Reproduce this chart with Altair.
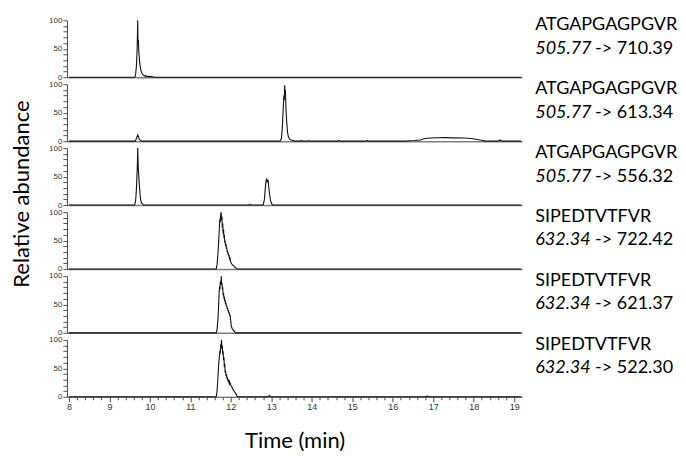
import altair as alt
import pandas as pd

# ---- labels ----
y_title = "Relative abundance"
peptides = ["ATGAPGAGPGVR", "ATGAPGAGPGVR", "ATGAPGAGPGVR",
            "SIPEDTVTFVR", "SIPEDTVTFVR", "SIPEDTVTFVR"]
precursors = ["505.77", "505.77", "505.77", "632.34", "632.34", "632.34"]
products = ["710.39", "613.34", "556.32", "722.42", "621.37", "522.30"]

# ---- traces (time in min, relative abundance in %) ----
t1 = [8.00, 9.62, 9.645, 9.665, 9.68, 9.69, 9.70, 9.705, 9.715, 9.725, 9.735, 9.75, 9.77, 9.79,
      9.81, 9.83, 9.85, 9.87, 9.89, 9.91, 9.93, 9.95, 9.98, 10.02, 10.06, 10.09, 19.17]
i1 = [0, 0, 3, 18, 40, 64, 100, 62, 66, 45, 38, 24, 15, 9,
      6, 4, 3, 2, 3, 1, 2, 1, 1.5, 1, 1, 0, 0]

t2 = [8.00, 9.64, 9.67, 9.70, 9.72, 9.74, 9.77, 9.80, 13.22, 13.25, 13.27, 13.29, 13.31, 13.32,
      13.33, 13.34, 13.35, 13.36, 13.38, 13.40, 13.42, 13.45, 13.49, 13.53, 13.57, 13.72, 13.75,
      13.78, 13.90, 13.93, 13.96, 14.63, 14.67, 14.71, 15.33, 15.37, 15.41, 16.30, 16.40, 16.55,
      16.68, 16.80, 16.93, 17.10, 17.30, 17.50, 17.75, 17.95, 18.08, 18.20, 18.30, 18.60, 18.65,
      18.70, 19.17]
i2 = [0, 0, 5, 11, 7, 3, 1, 0, 0, 5, 22, 50, 80, 72,
      98, 85, 90, 60, 35, 16, 8, 4, 2, 1, 0, 0, 1.2,
      0, 0, 1, 0, 0, 1.5, 0, 0, 1.5, 0, 0, 0.8, 1,
      2, 4.5, 5.5, 6, 6.2, 5.8, 5.5, 4.5, 3, 1.5, 0, 0, 2,
      0, 0]

t3 = [8.00, 9.62, 9.645, 9.665, 9.68, 9.69, 9.70, 9.71, 9.72, 9.735, 9.75, 9.77, 9.79, 9.82,
      9.85, 12.44, 12.47, 12.50, 12.80, 12.83, 12.85, 12.87, 12.885, 12.90, 12.92, 12.94, 12.96,
      12.98, 13.01, 13.04, 19.17]
i3 = [0, 0, 5, 25, 50, 68, 100, 70, 58, 40, 25, 10, 4, 2,
      0, 0, 1, 0, 0, 10, 28, 42, 47, 40, 44, 30, 18,
      8, 2, 0, 0]

t4 = [8.00, 11.64, 11.66, 11.68, 11.70, 11.71, 11.72, 11.73, 11.74, 11.75, 11.76, 11.77, 11.78,
      11.79, 11.80, 11.81, 11.82, 11.83, 11.84, 11.85, 11.86, 11.87, 11.88, 11.89, 11.90, 11.91,
      11.92, 11.93, 11.94, 11.95, 11.96, 11.97, 11.98, 11.99, 12.00, 12.02, 12.04, 12.06, 12.08,
      12.10, 12.12, 12.14, 12.16, 19.17]
i4 = [0, 0, 8, 25, 48, 62, 78, 88, 82, 96, 100, 86, 92,
      72, 80, 62, 70, 54, 60, 46, 50, 40, 44, 35, 38, 30,
      32, 26, 28, 22, 24, 18, 19, 14, 12, 9, 7, 6, 5,
      3, 2, 1, 0, 0]

t5 = [8.00, 11.64, 11.66, 11.68, 11.69, 11.70, 11.71, 11.72, 11.73, 11.74, 11.75, 11.76, 11.765,
      11.77, 11.78, 11.79, 11.80, 11.81, 11.82, 11.83, 11.84, 11.85, 11.86, 11.87, 11.88, 11.89,
      11.90, 11.91, 11.92, 11.93, 11.94, 11.95, 11.96, 11.97, 11.98, 11.99, 12.00, 12.01, 12.03,
      12.05, 12.07, 12.09, 12.11, 19.17]
i5 = [0, 0, 6, 22, 35, 52, 68, 82, 76, 90, 86, 95, 100,
      84, 88, 76, 80, 66, 70, 60, 64, 55, 58, 50, 53, 46,
      48, 42, 44, 38, 40, 34, 36, 30, 32, 26, 20, 12, 8,
      6, 4, 3, 0, 0]

t6 = [8.00, 11.64, 11.66, 11.68, 11.70, 11.72, 11.73, 11.74, 11.75, 11.76, 11.77, 11.78, 11.79,
      11.80, 11.81, 11.82, 11.83, 11.84, 11.85, 11.86, 11.87, 11.88, 11.89, 11.90, 11.91, 11.92,
      11.93, 11.94, 11.95, 11.96, 11.97, 11.98, 11.99, 12.00, 12.02, 12.04, 12.06, 12.08, 12.10,
      12.12, 12.14, 12.16, 12.92, 12.95, 12.98, 16.82, 16.85, 16.88, 19.17]
i6 = [0, 0, 10, 32, 58, 72, 81, 76, 92, 88, 100, 84, 90,
      74, 80, 64, 70, 52, 58, 42, 46, 36, 40, 32, 35, 29,
      31, 26, 28, 24, 26, 22, 23, 20, 18, 15, 12, 10, 8,
      6, 3, 0, 0, 2, 0, 0, 1.5, 0, 0]

times = [t1, t2, t3, t4, t5, t6]
intens = [i1, i2, i3, i4, i5, i6]

# ---- axis ticks ----
x_ticks = [round(8 + 0.2 * k, 1) for k in range(56)]
y_ticks = list(range(0, 101, 10))

W, H = 456, 57
FONT_TXT = "Lato"
FONT_AX = "Liberation Sans"
FS = 18

x_scale = alt.Scale(domain=[7.95, 19.2], nice=False, zero=False)
y_scale = alt.Scale(domain=[0, 100], nice=False)

y_axis = alt.Axis(values=y_ticks, labelExpr="datum.value % 50 === 0 ? datum.label : ''",
                  tickSize=4, domain=True, domainColor="#444444", domainWidth=1, grid=False,
                  labelFontSize=8, labelFont=FONT_AX, labelColor="#333333",
                  tickColor="#555555", labelPadding=1, labelOverlap=False, title=None)

is_int = "abs(datum.value - round(datum.value)) < 0.001"

panels = []
for k in range(6):
    df = pd.DataFrame({"t": times[k], "a": intens[k]})
    last = (k == 5)
    if last:
        x_axis = alt.Axis(values=x_ticks,
                          labelExpr=f"{is_int} ? format(round(datum.value), 'd') : ''",
                          tickSize={"condition": {"test": is_int, "value": 5}, "value": 3},
                          labelFlush=False, labelOverlap=False, grid=False,
                          labelFontSize=9, labelFont=FONT_AX, labelColor="#333333",
                          tickColor="#444444", domainColor="#444444", domainWidth=1.2,
                          labelPadding=1, title="Time (min)", titleFont=FONT_TXT,
                          titleFontSize=22, titleFontWeight="normal", titleColor="#000000",
                          titlePadding=19)
    else:
        x_axis = alt.Axis(labels=False, ticks=False, grid=False, domainColor="#7f7f7f",
                          domainWidth=1.5, title=None)

    line = alt.Chart(df).mark_line(color="#111111", strokeWidth=1.1, interpolate="linear").encode(
        x=alt.X("t:Q", scale=x_scale, axis=x_axis),
        y=alt.Y("a:Q", scale=y_scale, axis=y_axis),
    )

    lab = pd.DataFrame({"pep": [peptides[k]], "pre": [precursors[k]],
                        "pro": ["-> " + products[k]]})
    base = alt.Chart(lab)
    t_pep = base.mark_text(align="left", baseline="middle", font=FONT_TXT, fontSize=FS,
                           color="#000000").encode(
        x=alt.value(W + 13), y=alt.value(5), text="pep:N")
    t_pre = base.mark_text(align="left", baseline="middle", font=FONT_TXT, fontSize=FS,
                           fontStyle="italic", color="#000000").encode(
        x=alt.value(W + 13), y=alt.value(28.5), text="pre:N")
    t_pro = base.mark_text(align="left", baseline="middle", font=FONT_TXT, fontSize=FS,
                           color="#000000").encode(
        x=alt.value(W + 73), y=alt.value(28.5), text="pro:N")

    layers = [line, t_pep, t_pre, t_pro]
    if k == 2:
        ttl = alt.Chart(pd.DataFrame({"ttl": [y_title]})).mark_text(
            angle=270, align="center", baseline="middle", font=FONT_TXT, fontSize=22,
            color="#000000").encode(x=alt.value(-45), y=alt.value(46), text="ttl:N")
        layers.append(ttl)

    panels.append(alt.layer(*layers).properties(width=W, height=H))

chart = alt.vconcat(*panels, spacing=7, bounds="flush").properties(
    padding={"left": 2, "top": 8, "right": 0, "bottom": 0},
).configure_view(stroke=None)

chart.save("out.html", embed_options={"renderer": "svg", "actions": False})
